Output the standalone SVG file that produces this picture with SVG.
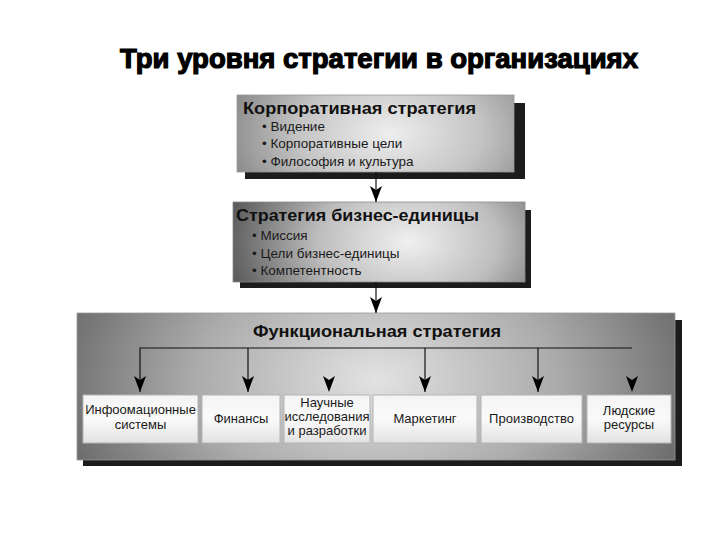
<svg xmlns="http://www.w3.org/2000/svg" width="720" height="540" viewBox="0 0 720 540">
<defs>
<radialGradient id="g1" cx="0.55" cy="0.5" r="0.6" gradientTransform="translate(0.55 0.5) scale(1 2.2) translate(-0.55 -0.5)">
<stop offset="0" stop-color="#eeeeee"/>
<stop offset="0.55" stop-color="#c4c4c4"/>
<stop offset="1" stop-color="#8a8a8a"/>
</radialGradient>
<radialGradient id="g2" cx="0.6" cy="0.5" r="0.62" gradientTransform="translate(0.6 0.5) scale(1 2.4) translate(-0.6 -0.5)">
<stop offset="0" stop-color="#f0f0f0"/>
<stop offset="0.5" stop-color="#bdbdbd"/>
<stop offset="1" stop-color="#5c5c5c"/>
</radialGradient>
<radialGradient id="g3" cx="0.5" cy="0.45" r="0.55" gradientTransform="translate(0.5 0.45) scale(1 2.6) translate(-0.5 -0.45)">
<stop offset="0" stop-color="#e2e2e2"/>
<stop offset="0.55" stop-color="#ababab"/>
<stop offset="1" stop-color="#6a6a6a"/>
</radialGradient>
<linearGradient id="gi" x1="0" y1="0" x2="0" y2="1">
<stop offset="0" stop-color="#f4f4f4"/>
<stop offset="0.5" stop-color="#fafafa"/>
<stop offset="1" stop-color="#e2e2e2"/>
</linearGradient>
<marker id="ah" viewBox="0 0 16 12" refX="16" refY="6" markerWidth="16" markerHeight="12" markerUnits="userSpaceOnUse" orient="auto-start-reverse">
<path d="M0 0 L4 6 L0 12 L16 6 Z" fill="#000"/>
</marker>
<path id="head" d="M-6 0 L0 4 L6 0 L0 16 Z"/>
</defs>
<style>
.shadow{fill:#1c1c1c}
.hd{font-family:"Liberation Sans",Arial,sans-serif;font-weight:bold;font-size:16px;fill:#111}
.bl{font-family:"Liberation Sans",Arial,sans-serif;font-size:13.5px;fill:#1a1a1a}
.fn{font-family:"Liberation Sans",Arial,sans-serif;font-size:13px;fill:#1a1a1a;text-anchor:middle}
.ib{fill:url(#gi);stroke:#b4b4b4;stroke-width:1}
.ln{stroke:#111;stroke-width:1.2;fill:none}
</style>
<rect width="720" height="540" fill="#ffffff"/>
<text id="title" x="379" y="68" text-anchor="middle" font-family="'Liberation Sans',Arial,sans-serif" font-weight="900" font-size="27" fill="#000" stroke="#000" stroke-width="1.2" textLength="518" lengthAdjust="spacingAndGlyphs">Три уровня стратегии в организациях</text>

<g id="corporate">
<rect class="shadow" x="245" y="103" width="280" height="76"/>
<rect x="237" y="95" width="277" height="77" fill="url(#g1)" stroke="#9a9a9a" stroke-width="0.8"/>
<text class="hd" x="243" y="114" textLength="233" lengthAdjust="spacingAndGlyphs">Корпоративная стратегия</text>
<text class="bl" x="262" y="131">• Видение</text>
<text class="bl" x="262" y="148">• Корпоративные цели</text>
<text class="bl" x="262" y="166">• Философия и культура</text>
</g>

<g id="business">
<rect class="shadow" x="240" y="210" width="291" height="78"/>
<rect x="233" y="202" width="292" height="80" fill="url(#g2)" stroke="#8a8a8a" stroke-width="0.8"/>
<text class="hd" x="236" y="221" textLength="243" lengthAdjust="spacingAndGlyphs">Стратегия бизнес-единицы</text>
<text class="bl" x="252" y="240">• Миссия</text>
<text class="bl" x="252" y="258">• Цели бизнес-единицы</text>
<text class="bl" x="252" y="275">• Компетентность</text>
</g>

<g id="functional">
<rect class="shadow" x="83" y="320" width="599" height="146"/>
<rect x="77" y="313" width="598" height="147" fill="url(#g3)" stroke="#9a9a9a" stroke-width="0.8"/>
<text class="hd" x="377" y="337" text-anchor="middle" textLength="248" lengthAdjust="spacingAndGlyphs">Функциональная стратегия</text>
</g>

<g id="f1"><rect class="ib" x="83" y="395" width="115" height="48"/><text class="fn" x="140.5" y="414">Инфоомационные</text><text class="fn" x="140.5" y="429">системы</text></g>
<g id="f2"><rect class="ib" x="202" y="395" width="78" height="48"/><text class="fn" x="241" y="423">Финансы</text></g>
<g id="f3"><rect class="ib" x="284" y="395" width="86" height="48"/><text class="fn" x="327" y="407">Научные</text><text class="fn" x="327" y="421">исследования</text><text class="fn" x="327" y="435">и разработки</text></g>
<g id="f4"><rect class="ib" x="373" y="395" width="104" height="48"/><text class="fn" x="425" y="423">Маркетинг</text></g>
<g id="f5"><rect class="ib" x="481" y="395" width="101" height="48"/><text class="fn" x="531.5" y="423">Производство</text></g>
<g id="f6"><rect class="ib" x="587" y="395" width="84" height="48"/><text class="fn" x="629" y="415">Людские</text><text class="fn" x="629" y="429">ресурсы</text></g>

<g id="connectors">
<line class="ln" x1="376" y1="172" x2="376" y2="202" marker-end="url(#ah)"/>
<line class="ln" x1="376" y1="282" x2="376" y2="313" marker-end="url(#ah)"/>
<polyline class="ln" points="632,348 140,348 140,392" marker-end="url(#ah)"/>
<line class="ln" x1="248" y1="348" x2="248" y2="392" marker-end="url(#ah)"/>
<line class="ln" x1="425" y1="348" x2="425" y2="392" marker-end="url(#ah)"/>
<line class="ln" x1="538" y1="348" x2="538" y2="392" marker-end="url(#ah)"/>
<use href="#head" x="329" y="376"/>
<use href="#head" x="632" y="376"/>
</g>
</svg>
